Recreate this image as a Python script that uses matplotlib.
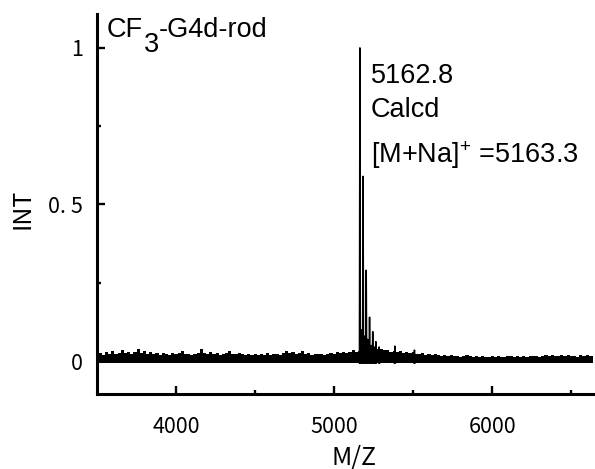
import numpy as np
import matplotlib
matplotlib.use("Agg")
import matplotlib.pyplot as plt
from matplotlib.ticker import FixedLocator

# ---------------- data ----------------
noise_start = 3500
noise_step = 20
noise_top = [
    0.022, 0.026, 0.020, 0.028, 0.024, 0.031, 0.021, 0.027, 0.034, 0.025,
    0.028, 0.022, 0.030, 0.037, 0.026, 0.031, 0.023, 0.029, 0.022, 0.026,
    0.020, 0.025, 0.023, 0.019, 0.026, 0.021, 0.027, 0.031, 0.022, 0.024,
    0.020, 0.023, 0.026, 0.038, 0.027, 0.024, 0.029, 0.021, 0.025, 0.020,
    0.023, 0.027, 0.033, 0.024, 0.021, 0.026, 0.022, 0.020, 0.024, 0.019,
    0.022, 0.018, 0.023, 0.020, 0.025, 0.019, 0.021, 0.024, 0.020, 0.027,
    0.032, 0.026, 0.029, 0.023, 0.027, 0.031, 0.022, 0.025, 0.020, 0.023,
    0.021, 0.024, 0.019, 0.022, 0.027, 0.023, 0.029, 0.025, 0.030, 0.026,
    0.028, 0.035, 0.030, 0.033, 0.045, 0.040, 0.048, 0.042, 0.046, 0.040,
    0.038, 0.034, 0.036, 0.030, 0.033, 0.028, 0.031, 0.027, 0.030, 0.025,
    0.028, 0.024, 0.022, 0.025, 0.020, 0.022, 0.018, 0.021, 0.019, 0.017,
    0.018, 0.016, 0.019, 0.015, 0.017, 0.014, 0.016, 0.018, 0.015, 0.013,
    0.015, 0.013, 0.016, 0.014, 0.012, 0.015, 0.013, 0.016, 0.014, 0.013,
    0.015, 0.017, 0.014, 0.016, 0.013, 0.015, 0.014, 0.017, 0.015, 0.016,
    0.014, 0.017, 0.020, 0.016, 0.018, 0.015, 0.017, 0.019, 0.016, 0.018,
    0.015, 0.017, 0.014, 0.019, 0.016, 0.018, 0.015, 0.017,
]
noise_floor = -0.006

peak_mz = [5163, 5173, 5183, 5193, 5203, 5213, 5224, 5234, 5244, 5254,
           5264, 5285, 5384, 5508]
peak_int = [1.00, 0.10, 0.59, 0.08, 0.29, 0.07, 0.14, 0.05, 0.094, 0.045,
            0.062, 0.045, 0.048, 0.035]

x_ticks = [4000, 5000, 6000]
x_tick_labels = ["4000", "5000", "6000"]
x_minor = [4500, 5500, 6500]
y_ticks = [0, 0.5, 1]
y_tick_labels = ["0", "0. 5", "1"]
y_minor = [0.25, 0.75]

# ---------------- style ----------------
plt.rcParams["mathtext.fontset"] = "custom"
plt.rcParams["mathtext.rm"] = "Liberation Sans"
plt.rcParams["mathtext.it"] = "Liberation Sans:italic"
plt.rcParams["mathtext.bf"] = "Liberation Sans:bold"

fig = plt.figure(figsize=(5.95, 4.69), dpi=100)
ax = fig.add_axes([0.163, 0.160, 0.837, 0.810])

noise_mz = noise_start + noise_step * np.arange(len(noise_top))
ax.fill_between(noise_mz, noise_floor, noise_top, step="mid",
                color="black", lw=0)

half_w = 3.0
for c, h in zip(peak_mz, peak_int):
    ax.plot([c - half_w, c, c + half_w], [noise_floor, h, noise_floor],
            color="black", lw=1.1)

ax.set_xlim(3500, 6650)
ax.set_ylim(-0.105, 1.108)

for s in ("top", "right"):
    ax.spines[s].set_visible(False)
for s in ("left", "bottom"):
    ax.spines[s].set_linewidth(2.2)

ax.set_xticks(x_ticks)
ax.set_xticklabels(x_tick_labels, fontfamily="Noto Sans CJK JP", fontsize=15.5)
ax.xaxis.set_minor_locator(FixedLocator(x_minor))
ax.set_yticks(y_ticks)
ax.set_yticklabels(y_tick_labels, fontfamily="Noto Sans CJK JP", fontsize=15.5)
ax.yaxis.set_minor_locator(FixedLocator(y_minor))

ax.tick_params(axis="x", which="major", direction="in", length=6, width=1.7, pad=16)
ax.tick_params(axis="x", which="minor", direction="in", length=3, width=1.7)
ax.tick_params(axis="y", which="major", direction="in", length=6, width=1.7, pad=10)
ax.tick_params(axis="y", which="minor", direction="in", length=3, width=1.7)

fig.text(23 / 595, 1 - 209 / 469, "INT", rotation=90, ha="center", va="center",
         fontfamily="Noto Sans CJK JP", fontsize=18)
fig.text(354 / 595, 1 - 457 / 469, "M/Z", ha="center", va="center",
         fontfamily="Noto Sans CJK JP", fontsize=18)

# annotations
afont = dict(fontfamily="Liberation Sans", fontsize=19.5, color="black")
t1 = ax.text(3563, 1.035, "CF", ha="left", va="baseline", **afont)
t2 = ax.annotate("3", xy=(1, 0), xycoords=t1, xytext=(0.5, -10.5),
                 textcoords="offset points", ha="left", va="bottom", **afont)
t3 = ax.annotate("-G4d-rod", xy=(1, 0), xycoords=(t2, t1), xytext=(0, 0),
                 textcoords="offset points", ha="left", va="bottom", **afont)

ax.text(5231, 0.888, "5162.8", ha="left", va="baseline", **afont)
ax.text(5231, 0.780, "Calcd", ha="left", va="baseline", **afont)
ax.text(5231, 0.633, r"[M+Na]$^{+}$ =5163.3", ha="left", va="baseline", **afont)

fig.savefig("out.png", dpi=100)
